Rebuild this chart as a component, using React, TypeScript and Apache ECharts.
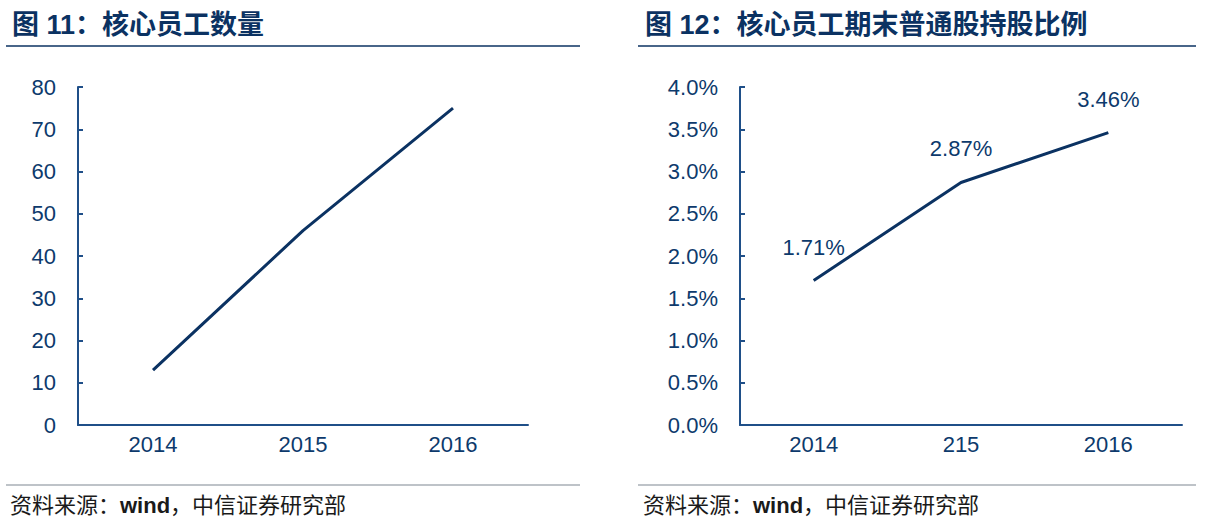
import React, { useEffect, useRef } from "react";
import * as echarts from "echarts";

const years1 = ["2014", "2015", "2016"];
const staffCount = [13, 46, 75];
const years2 = ["2014", "215", "2016"];
const shareRatio = [1.71, 2.87, 3.46];
const title1 = "图 11：核心员工数量";
const title2 = "图 12：核心员工期末普通股持股比例";

const NAVY = "#0b3262";
const AXIS = "#1f4f88";
const TEXT = "#0d3a6c";
const FONT = "'Liberation Sans', Arial, 'Noto Sans CJK SC', sans-serif";
const CJK = "'Liberation Sans', 'Noto Sans CJK SC', sans-serif";

const sourceStyle = (x: number) => ({
  type: "text",
  left: x,
  top: 494,
  style: {
    text: "{c|资料来源：}{w|wind}{c|，中信证券研究部}",
    rich: {
      c: { fill: "#1a1a1a", font: `22px ${CJK}` },
      w: { fill: "#1a1a1a", font: `bold 22px ${CJK}` },
    },
  },
});

export default function App() {
  const ref = useRef<HTMLDivElement>(null);
  useEffect(() => {
    const chart = echarts.init(ref.current!, undefined, { renderer: "svg" });
    const yAxisCommon = {
      type: "value" as const,
      min: 0,
      axisLine: { show: true, lineStyle: { color: AXIS, width: 2 } },
      axisTick: { show: true, inside: true, length: 5, lineStyle: { color: AXIS, width: 2 } },
      splitLine: { show: false },
      axisLabel: { color: TEXT, fontSize: 22, fontFamily: FONT, margin: 22 },
    };
    const xAxisCommon = {
      type: "category" as const,
      boundaryGap: true,
      axisLine: { show: true, lineStyle: { color: AXIS, width: 2 } },
      axisTick: { show: false },
      axisLabel: { color: TEXT, fontSize: 22, fontFamily: FONT, margin: 8 },
    };
    chart.setOption({
      animation: false,
      grid: [
        { left: 78, top: 87, width: 450, height: 338 },
        { left: 740, top: 87, width: 442, height: 338 },
      ],
      xAxis: [
        { ...xAxisCommon, gridIndex: 0, data: years1 },
        { ...xAxisCommon, gridIndex: 1, data: years2 },
      ],
      yAxis: [
        { ...yAxisCommon, gridIndex: 0, max: 80, interval: 10 },
        {
          ...yAxisCommon,
          gridIndex: 1,
          max: 4,
          interval: 0.5,
          axisLabel: {
            ...yAxisCommon.axisLabel,
            margin: 22,
            formatter: (v: number) => v.toFixed(1) + "%",
          },
        },
      ],
      series: [
        {
          type: "line",
          xAxisIndex: 0,
          yAxisIndex: 0,
          data: staffCount,
          symbol: "none",
          lineStyle: { color: NAVY, width: 3 },
        },
        {
          type: "line",
          xAxisIndex: 1,
          yAxisIndex: 1,
          data: shareRatio,
          symbol: "circle",
          symbolSize: 1,
          showSymbol: true,
          itemStyle: { color: NAVY, opacity: 0 },
          lineStyle: { color: NAVY, width: 3 },
          label: {
            show: true,
            position: "top",
            distance: 22,
            color: TEXT,
            fontSize: 22,
            fontFamily: FONT,
            opacity: 1,
            formatter: (p: any) => Number(p.value).toFixed(2) + "%",
          },
        },
      ],
      graphic: [
        {
          type: "text",
          left: 12,
          top: 11,
          style: { text: title1, fill: NAVY, font: `bold 27px ${CJK}` },
        },
        {
          type: "text",
          left: 645,
          top: 11,
          style: { text: title2, fill: NAVY, font: `bold 27px ${CJK}` },
        },
        {
          type: "line",
          shape: { x1: 6, y1: 46, x2: 580, y2: 46 },
          style: { stroke: NAVY, lineWidth: 1.5 },
        },
        {
          type: "line",
          shape: { x1: 638, y1: 46, x2: 1196, y2: 46 },
          style: { stroke: NAVY, lineWidth: 1.5 },
        },
        {
          type: "line",
          shape: { x1: 6, y1: 485, x2: 580, y2: 485 },
          style: { stroke: "#a9afb6", lineWidth: 1.5 },
        },
        {
          type: "line",
          shape: { x1: 638, y1: 485, x2: 1196, y2: 485 },
          style: { stroke: "#a9afb6", lineWidth: 1.5 },
        },
        sourceStyle(10),
        sourceStyle(643),
      ],
    });
    return () => chart.dispose();
  }, []);
  return (
    <div
      ref={ref}
      style={{ position: "fixed", left: 0, top: 0, width: 1224, height: 530, background: "#fff" }}
    />
  );
}
